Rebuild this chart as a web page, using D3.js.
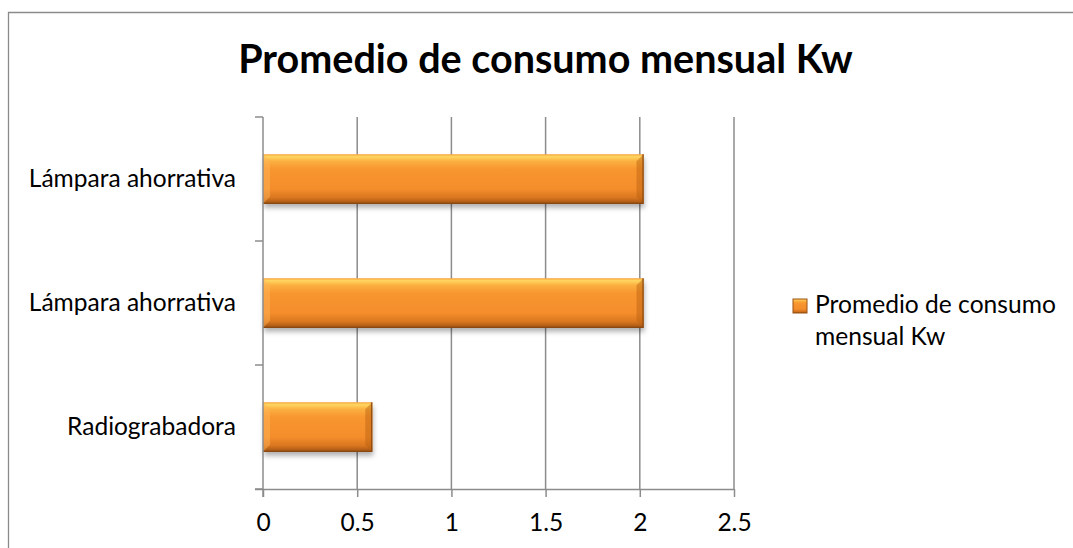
<!DOCTYPE html>
<html><head><meta charset="utf-8">
<script src="https://cdn.jsdelivr.net/npm/d3@7"></script>
<style>html,body{margin:0;padding:0;background:#fff;overflow:hidden}</style>
</head><body>
<svg id="chart" width="1073" height="548"></svg>
<script>
const categories = ["Lámpara ahorrativa", "Lámpara ahorrativa", "Radiograbadora"];
const values = [2.02, 2.02, 0.58];
const xTicks = [0, 0.5, 1, 1.5, 2, 2.5];
const seriesName = "Promedio de consumo mensual Kw";
const titleText = "Promedio de consumo mensual Kw";

const FONT = "Lato, 'Open Sans', sans-serif";
const svg = d3.select("#chart");
const W = 1073, H = 548;
svg.append("rect").attr("width", W).attr("height", H).attr("fill", "#fff");

function fitSize(text, weight, target) {
  const t = svg.append("text").attr("font-family", FONT).attr("font-weight", weight)
    .attr("font-size", 20).text(text);
  const w = t.node().getComputedTextLength();
  t.remove();
  return 20 * target / w;
}
const labelFs = fitSize("Radiograbadora", "normal", 169);
const titleFs = fitSize(titleText, "bold", 615);
const legendFs = fitSize("Promedio de consumo", "normal", 241);

// chart border (only top and left edges are in view)
svg.append("path").attr("d", `M8.5,${H}V12.5H${W}`)
  .attr("fill", "none").attr("stroke", "#8a8a8a").attr("stroke-width", 1.3);

const defs = svg.append("defs");
const grad = defs.append("linearGradient").attr("id", "barGrad").attr("x1", 0).attr("y1", 0).attr("x2", 0).attr("y2", 1);
[[0, "#f7a640"], [0.05, "#ffd660"], [0.14, "#fbb040"], [0.3, "#f8962f"], [0.7, "#f48d2c"], [0.88, "#d9761f"], [1, "#9c5213"]]
  .forEach(([o, c]) => grad.append("stop").attr("offset", o).attr("stop-color", c));
const f = defs.append("filter").attr("id", "shadow").attr("x", "-5%").attr("y", "-20%").attr("width", "115%").attr("height", "160%");
f.append("feDropShadow").attr("dx", 1).attr("dy", 4).attr("stdDeviation", 2.5).attr("flood-color", "#000").attr("flood-opacity", 0.3);

const x = d3.scaleLinear().domain([0, 2.5]).range([263, 734]);
const y = d3.scaleBand().domain(d3.range(categories.length)).range([117, 489]).paddingInner(0.6).paddingOuter(0.3);

const gridColor = "#8c8c8c";
svg.append("g").selectAll("line").data(xTicks.slice(1)).join("line")
  .attr("x1", d => x(d)).attr("x2", d => x(d)).attr("y1", 117).attr("y2", 489)
  .attr("stroke", gridColor).attr("stroke-width", 1.5);

const bars = svg.append("g").selectAll("g").data(values).join("g");
bars.append("rect")
  .attr("x", x(0)).attr("y", (d, i) => y(i))
  .attr("width", d => x(d) - x(0)).attr("height", y.bandwidth())
  .attr("fill", "url(#barGrad)").attr("filter", "url(#shadow)");
const bv = 7;
bars.append("path").attr("d", (d, i) => {
  const x0 = x(0), y0 = y(i), h = y.bandwidth();
  return `M${x0},${y0}L${x0 + bv},${y0 + bv}L${x0 + bv},${y0 + h - bv}L${x0},${y0 + h}Z`;
}).attr("fill", "#ffb65a").attr("opacity", 0.45);
bars.append("path").attr("d", (d, i) => {
  const x1 = x(d), y0 = y(i), h = y.bandwidth();
  return `M${x1},${y0}L${x1 - bv},${y0 + bv}L${x1 - bv},${y0 + h - bv}L${x1},${y0 + h}Z`;
}).attr("fill", "#b8600f").attr("opacity", 0.45);
bars.append("path").attr("d", (d, i) => {
  const x0 = x(0), x1 = x(d), y0 = y(i), h = y.bandwidth();
  return `M${x0},${y0 + h - 0.5}L${x1 - 0.5},${y0 + h - 0.5}L${x1 - 0.5},${y0}`;
}).attr("fill", "none").attr("stroke", "#8a4810").attr("stroke-width", 1.2);

const xAxis = svg.append("g").attr("transform", "translate(0,489)")
  .call(d3.axisBottom(x).tickValues(xTicks).tickFormat(d => String(d)).tickSize(8).tickSizeOuter(0).tickPadding(17));
xAxis.select(".domain").attr("stroke", gridColor).attr("stroke-width", 1.5).attr("d", "M255,0.5H734");
xAxis.selectAll(".tick line").attr("stroke", gridColor).attr("stroke-width", 1.5);
xAxis.selectAll(".tick text").attr("font-family", FONT).attr("font-size", labelFs).attr("fill", "#000");

const yAxis = svg.append("g").attr("transform", "translate(263,0)")
  .call(d3.axisLeft(y).tickFormat(i => categories[i]).tickSize(0).tickPadding(27));
yAxis.select(".domain").attr("stroke", gridColor).attr("stroke-width", 1.5).attr("d", "M0,117V497");
yAxis.selectAll(".tick text").attr("font-family", FONT).attr("font-size", labelFs).attr("fill", "#000");
const bounds = d3.range(categories.length + 1).map(i => 117 + i * y.step());
svg.append("g").selectAll("line").data(bounds).join("line")
  .attr("x1", 255).attr("x2", 263).attr("y1", d => d).attr("y2", d => d)
  .attr("stroke", gridColor).attr("stroke-width", 1.5);

svg.append("text").attr("x", 545.5).attr("y", 73).attr("text-anchor", "middle")
  .attr("font-family", FONT).attr("font-weight", "bold").attr("font-size", titleFs)
  .attr("fill", "#000").text(titleText);

const lg = svg.append("g");
lg.append("rect").attr("x", 793).attr("y", 299).attr("width", 14).attr("height", 14)
  .attr("fill", "url(#barGrad)").attr("stroke", "#9c5213").attr("stroke-width", 1);
const words = seriesName.split(" ");
const lines = [words.slice(0, 3).join(" "), words.slice(3).join(" ")];
lg.selectAll("text").data(lines).join("text")
  .attr("x", 815).attr("y", (d, i) => 313 + i * 32)
  .attr("font-family", FONT).attr("font-size", legendFs).attr("fill", "#000").text(d => d);
</script>
</body></html>
